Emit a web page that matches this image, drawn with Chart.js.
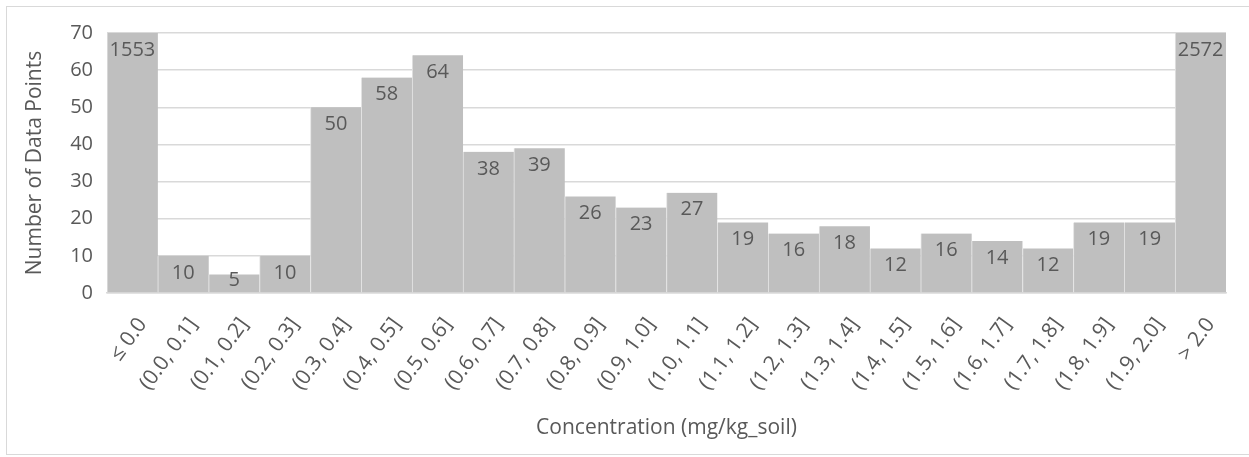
<!DOCTYPE html>
<html>
<head>
<meta charset="utf-8">
<script src="https://cdn.jsdelivr.net/npm/chart.js@4"></script>
<style>
  html, body { margin: 0; padding: 0; background: #fff; }
  #wrap { width: 1249px; height: 457px; }
</style>
</head>
<body>
<div id="wrap"><canvas id="histogram-chart" width="1249" height="457"></canvas></div>
<script>
//Bin labels
const binLabels = [
  "\u2264 0.0", "(0.0, 0.1]", "(0.1, 0.2]", "(0.2, 0.3]", "(0.3, 0.4]", "(0.4, 0.5]",
  "(0.5, 0.6]", "(0.6, 0.7]", "(0.7, 0.8]", "(0.8, 0.9]", "(0.9, 1.0]", "(1.0, 1.1]",
  "(1.1, 1.2]", "(1.2, 1.3]", "(1.3, 1.4]", "(1.4, 1.5]", "(1.5, 1.6]", "(1.6, 1.7]",
  "(1.7, 1.8]", "(1.8, 1.9]", "(1.9, 2.0]", "> 2.0",
];
//Counts per bin
const binCounts = [1553, 10, 5, 10, 50, 58, 64, 38, 39, 26, 23, 27, 19, 16, 18, 12, 16, 14, 12, 19, 19, 2572];
//Y axis ticks
const yTicks = [0, 10, 20, 30, 40, 50, 60, 70];

const textColor = "#595959";
const gridColor = "#D9D9D9";
const fontFamily = "'Open Sans', 'DejaVu Sans', sans-serif";

//Outer frame around the chart
const framePlugin = {
  id: "frame",
  beforeDraw(chart) {
    const ctx = chart.ctx;
    ctx.save();
    ctx.strokeStyle = gridColor;
    ctx.lineWidth = 1;
    ctx.strokeRect(6.5, 6.5, 1300, 448);
    ctx.restore();
  },
};

//Count labels inside the bar ends
const countLabelPlugin = {
  id: "countLabels",
  afterDatasetsDraw(chart) {
    const ctx = chart.ctx;
    const meta = chart.getDatasetMeta(0);
    const area = chart.chartArea;
    ctx.save();
    ctx.fillStyle = textColor;
    ctx.font = "20px " + fontFamily;
    ctx.textAlign = "center";
    ctx.textBaseline = "middle";
    meta.data.forEach((bar, i) => {
      const top = Math.max(bar.y, area.top);
      const y = Math.min(top + 17, bar.base - 12);
      ctx.fillText(String(binCounts[i]), bar.x, y);
    });
    ctx.restore();
  },
};

const ctx = document.getElementById("histogram-chart").getContext("2d");
const chart = new Chart(ctx, {
  type: "bar",
  data: {
    labels: binLabels,
    datasets: [
      {
        label: "Number of Data Points",
        data: binCounts,
        backgroundColor: "#BFBFBF",
        borderColor: "#E3E3E3",
        borderWidth: { left: 1, right: 0, top: 0, bottom: 0 },
        borderSkipped: false,
        barPercentage: 1,
        categoryPercentage: 1,
      },
    ],
  },
  options: {
    responsive: false,
    animation: false,
    events: [],
    layout: {
      padding: { top: 33, right: 23, bottom: 0, left: 0 },
    },
    plugins: {
      legend: { display: false },
      tooltip: { enabled: false },
      title: { display: false },
    },
    scales: {
      x: {
        grid: { display: false, drawTicks: false },
        border: { display: true, color: gridColor, width: 1.5 },
        ticks: {
          color: textColor,
          font: { family: fontFamily, size: 21 },
          minRotation: 54,
          maxRotation: 54,
          autoSkip: false,
          padding: 20,
          labelOffset: 10,
        },
        title: {
          display: true,
          text: "Concentration (mg/kg_soil)",
          color: textColor,
          font: { family: fontFamily, size: 21 },
          padding: { top: 0, bottom: 16 },
        },
        afterFit(scale) {
          scale.height = 164;
        },
      },
      y: {
        min: 0,
        max: 70,
        grid: { color: gridColor, lineWidth: 1.5, drawTicks: false },
        border: { display: false },
        afterBuildTicks(scale) {
          scale.ticks = yTicks.map((v) => ({ value: v }));
        },
        ticks: {
          color: textColor,
          font: { family: fontFamily, size: 20 },
          padding: 14,
        },
        title: {
          display: true,
          text: "Number of Data Points",
          color: textColor,
          font: { family: fontFamily, size: 21 },
          padding: { top: 22, bottom: 0 },
        },
        afterFit(scale) {
          scale.width = 107;
        },
      },
    },
  },
  plugins: [framePlugin, countLabelPlugin],
});
</script>
</body>
</html>
